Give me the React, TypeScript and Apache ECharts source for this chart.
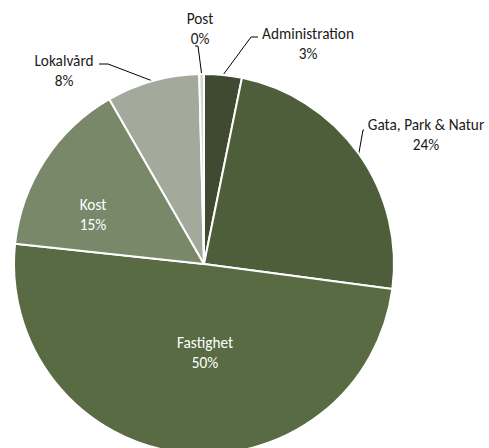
import React, { useEffect, useRef } from "react";
import * as echarts from "echarts";

const categories = ["Administration", "Gata, Park & Natur", "Fastighet", "Kost", "Lokalvård", "Post"];
const values = [3.2, 23.9, 49.6, 15.0, 7.9, 0.4];
const colors = ["#3f4a30", "#4e5e3a", "#586b42", "#798869", "#a3aa9b", "#d3d7ce"];
const insideLabel = [false, false, true, true, false, false];

// label placement (text centre) and leader-line bends
const labelPos: Record<number, { x: number; y: number; bend?: number[][] }> = {
  0: { x: 308, y: 43, bend: [[251, 37], [258, 37]] },
  1: { x: 426, y: 134, bend: [[363, 130], [364, 130]] },
  2: { x: 205, y: 352 },
  3: { x: 93, y: 214 },
  4: { x: 64, y: 70, bend: [[108, 64], [99, 64]] },
  5: { x: 200, y: 28, bend: [[198, 46], [195, 46]] },
};

export default function App() {
  const ref = useRef<HTMLDivElement>(null);
  useEffect(() => {
    const chart = echarts.init(ref.current!, undefined, { renderer: "svg" });
    chart.setOption({
      animation: false,
      backgroundColor: "#ffffff",
      series: [
        {
          type: "pie",
          center: [204, 264],
          radius: 190,
          startAngle: 90,
          clockwise: true,
          avoidLabelOverlap: false,
          itemStyle: { borderColor: "#ffffff", borderWidth: 2 },
          label: {
            formatter: (p: any) => `${p.name}\n${Math.round(p.percent)}%`,
            fontFamily: "Carlito, 'Open Sans', sans-serif",
            fontSize: 15.3,
            fontWeight: 400,
            lineHeight: 20,
            align: "center",
            color: "#1a1a1a",
          },
          labelLine: { lineStyle: { color: "#000000", width: 1 }, length: 10, length2: 5 },
          labelLayout: (params: any) => {
            const lp = labelPos[params.dataIndex];
            const out: any = { x: lp.x, y: lp.y, align: "center", verticalAlign: "middle" };
            if (lp.bend && params.labelLinePoints) {
              out.labelLinePoints = [params.labelLinePoints[0], lp.bend[0], lp.bend[1]];
            }
            return out;
          },
          data: categories.map((c, i) => ({
            name: c,
            value: values[i],
            itemStyle: { color: colors[i] },
            label: insideLabel[i]
              ? { position: "inside", color: "#ffffff" }
              : { position: "outside" },
            labelLine: { show: !insideLabel[i] },
          })),
        },
      ],
    });
    return () => chart.dispose();
  }, []);
  return (
    <div
      ref={ref}
      style={{ position: "fixed", left: 0, top: 0, width: 489, height: 448 }}
    />
  );
}
